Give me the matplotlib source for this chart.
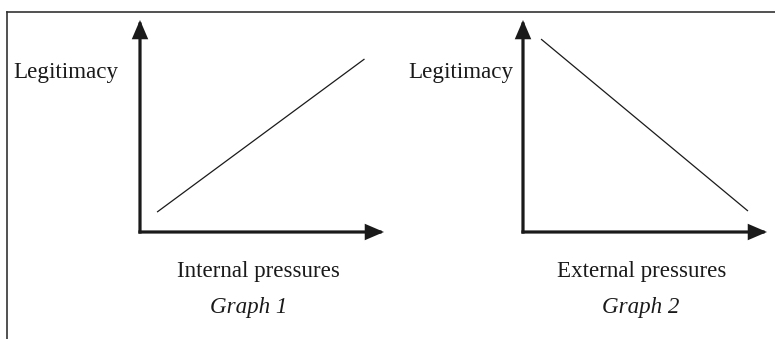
import matplotlib
matplotlib.use("Agg")
from matplotlib import pyplot as plt
from matplotlib.lines import Line2D

# conceptual lines, in axis fractions
graph1_x = [0.07, 0.92]
graph1_y = [0.094, 0.816]
graph2_x = [0.074, 0.922]
graph2_y = [0.91, 0.099]

graph_titles = ["Graph 1", "Graph 2"]
x_labels = ["Internal pressures", "External pressures"]
y_label = "Legitimacy"

plt.rcParams["font.family"] = ["Liberation Serif", "DejaVu Serif"]

fig = plt.figure(figsize=(7.75, 3.39), dpi=100)

# frame (only top and left edges visible in the crop)
fig.add_artist(Line2D([6.5 / 775, 6.5 / 775], [0, 1 - 11.5 / 339],
                      transform=fig.transFigure, color="#333333", lw=1.2))
fig.add_artist(Line2D([6.5 / 775, 1], [1 - 11.5 / 339, 1 - 11.5 / 339],
                      transform=fig.transFigure, color="#333333", lw=1.2))

axes_specs = [
    (140 / 775, graph1_x, graph1_y, 66 / 775, 258 / 775, 249 / 775),
    (523 / 775, graph2_x, graph2_y, 461 / 775, 642 / 775, 641 / 775),
]

for i, (left, xs, ys, ylab_x, xlab_x, title_x) in enumerate(axes_specs):
    ax = fig.add_axes([left, 107 / 339, 244 / 775, 212 / 339])
    ax.set_xlim(0, 1)
    ax.set_ylim(0, 1)
    ax.axis("off")
    ax.plot(xs, ys, color="#1a1a1a", lw=0.9, solid_capstyle="butt")

    style = "-|>,head_length=0.7,head_width=0.3"
    for tip in [(1, 0), (0, 1)]:
        ax.annotate("", xy=tip, xytext=(0, 0), xycoords="axes fraction",
                    arrowprops=dict(arrowstyle=style, lw=2.3, color="#1a1a1a",
                                    mutation_scale=14, shrinkA=0, shrinkB=0,
                                    joinstyle="miter", capstyle="projecting"))

    fig.text(ylab_x, 1 - 78 / 339, y_label, ha="center", va="baseline",
             fontsize=16.6, color="#1a1a1a")
    fig.text(xlab_x, 1 - 277 / 339, x_labels[i], ha="center", va="baseline",
             fontsize=16.6, color="#1a1a1a")
    fig.text(title_x, 1 - 313 / 339, graph_titles[i], ha="center", va="baseline",
             fontsize=16.6, style="italic", color="#1a1a1a")

fig.savefig("out.png", dpi=100)
